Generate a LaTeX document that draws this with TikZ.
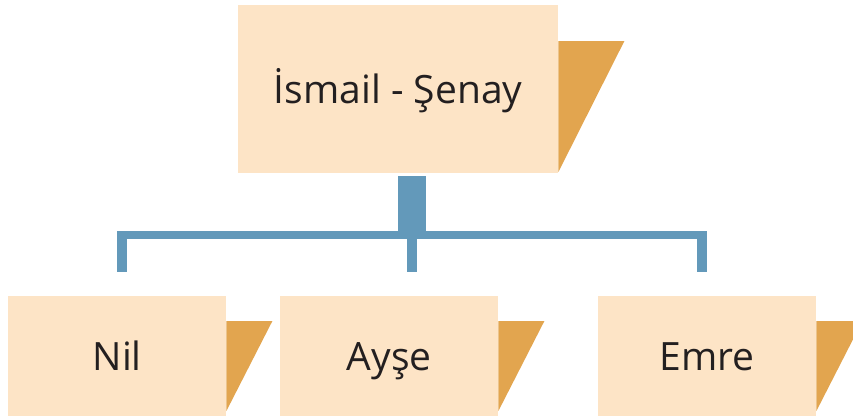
\documentclass[tikz,border=0pt]{standalone}
\usepackage{fontspec}
\setmainfont{Open Sans}
\definecolor{boxfill}{HTML}{FDE4C6}
\definecolor{flap}{HTML}{E2A54F}
\definecolor{link}{HTML}{6399BA}
\definecolor{ink}{HTML}{231F20}
\begin{document}
\begin{tikzpicture}[x=1pt,y=-1pt,
  person/.style={fill=boxfill, text=ink, inner sep=0pt, anchor=north west,
    minimum width=218pt, minimum height=120pt, text height=28pt, text depth=0pt,
    font=\fontsize{39}{47}\selectfont},
  flapfill/.style={fill=flap},
  stem/.style={draw=link, line width=28pt},
  bar/.style={draw=link, line width=8pt},
  drop/.style={draw=link, line width=10pt}]
\useasboundingbox (0,0) rectangle (853,416);
\clip (0,0) rectangle (853,416);
% boxes
\node[person, minimum width=320pt, minimum height=168pt] (top) at (238,5) {İsmail - Şenay};
\node[person] (nil) at (8,296) {Nil};
\node[person] (ayse) at (280,296) {Ayşe};
\node[person] (emre) at (598,296) {Emre};
% flaps
\fill[flapfill] (top.north east) ++(0,36) -- ++(66,0) -- ++(-66,131) -- cycle;
\fill[flapfill] (nil.north east) ++(0,25) -- ++(46,0) -- ++(-46,90) -- cycle;
\fill[flapfill] (ayse.north east) ++(0,25) -- ++(46,0) -- ++(-46,90) -- cycle;
\fill[flapfill] (emre.north east) ++(0,25) -- ++(46,0) -- ++(-46,90) -- cycle;
% connectors
\coordinate (stemtop) at (412,176);
\coordinate (hub) at (412,239);
\coordinate (barL) at (117,235);
\coordinate (barR) at (707,235);
\coordinate (nilT) at (122,231);
\coordinate (nilB) at (122,272);
\coordinate (ayseT) at (412,231);
\coordinate (ayseB) at (412,272);
\coordinate (emreT) at (702,231);
\coordinate (emreB) at (702,272);
\path[stem] (stemtop) -- (hub);
\path[bar] (barL) -- (barR);
\path[drop] (nilT) -- (nilB);
\path[drop] (ayseT) -- (ayseB);
\path[drop] (emreT) -- (emreB);
\end{tikzpicture}
\end{document}
